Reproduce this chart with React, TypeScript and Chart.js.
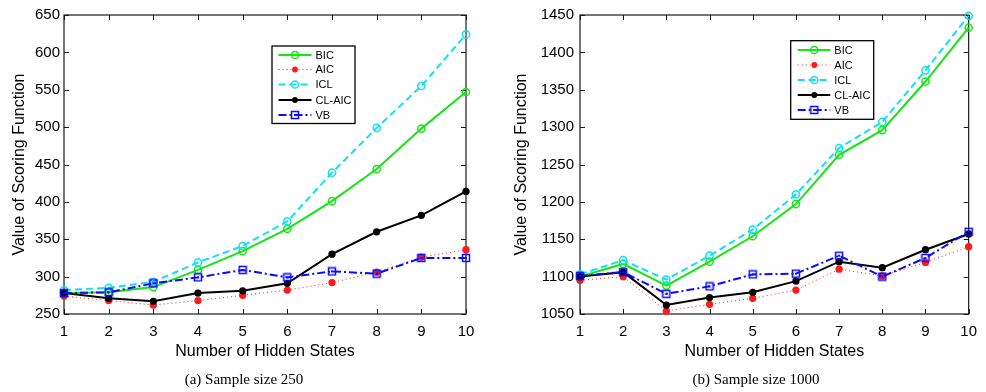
import React, { useEffect, useRef } from "react";
import { Chart, registerables } from "chart.js";

Chart.register(...registerables);

// ---------- data ----------
const hiddenStates = [1, 2, 3, 4, 5, 6, 7, 8, 9, 10];
const seriesNames = ["BIC", "AIC", "ICL", "CL-AIC", "VB"];

const bic250 = [278, 279, 286, 309, 334, 364, 401, 444, 498, 547];
const aic250 = [274, 268, 262, 268, 275, 282, 292, 306, 326, 336];
const icl250 = [282, 285, 293, 319, 341, 374, 439, 499, 555, 624];
const clAic250 = [278, 271, 267, 278, 281, 291, 330, 360, 382, 414];
const vb250 = [278, 279, 291, 299, 309, 299, 307, 304, 325, 325];

const bic1000 = [1100, 1117, 1088, 1120, 1154, 1197, 1263, 1296, 1361, 1433];
const aic1000 = [1095, 1100, 1054, 1063, 1071, 1082, 1110, 1101, 1119, 1140];
const icl1000 = [1103, 1122, 1096, 1128, 1163, 1210, 1272, 1307, 1376, 1449];
const clAic1000 = [1100, 1106, 1062, 1072, 1079, 1094, 1120, 1112, 1136, 1157];
const vb1000 = [1101, 1106, 1077, 1087, 1103, 1104, 1128, 1100, 1125, 1160];

const yTicks250 = [250, 300, 350, 400, 450, 500, 550, 600, 650];
const yTicks1000 = [1050, 1100, 1150, 1200, 1250, 1300, 1350, 1400, 1450];

const xTitle = "Number of Hidden States";
const yTitle = "Value of Scoring Function";
const caption250 = "(a) Sample size 250";
const caption1000 = "(b) Sample size 1000";

// ---------- styles ----------
type Style = { color: string; width: number; dash: number[]; marker: "open" | "dot" | "square"; r: number };
const styles: Style[] = [
  { color: "#14e614", width: 2, dash: [], marker: "open", r: 3.6 },
  { color: "#ff1a1a", width: 1, dash: [1, 3], marker: "dot", r: 2.9 },
  { color: "#10e2ee", width: 2, dash: [7, 4], marker: "open", r: 3.6 },
  { color: "#000000", width: 2, dash: [], marker: "dot", r: 2.9 },
  { color: "#0a0aff", width: 2, dash: [8, 3, 2, 3], marker: "square", r: 3.5 },
];

const FONT = 'Arial, "Liberation Sans", Helvetica, sans-serif';

function makeSquare(color: string): HTMLCanvasElement {
  const c = document.createElement("canvas");
  c.width = 10;
  c.height = 10;
  const g = c.getContext("2d")!;
  g.strokeStyle = color;
  g.lineWidth = 1.5;
  g.strokeRect(1.5, 1.5, 7, 7);
  g.fillStyle = color;
  g.fillRect(4, 4, 2, 2);
  return c;
}

function drawMarker(ctx: CanvasRenderingContext2D, s: Style, x: number, y: number, sq: HTMLCanvasElement) {
  ctx.save();
  ctx.setLineDash([]);
  if (s.marker === "square") {
    ctx.drawImage(sq, x - 5, y - 5);
  } else {
    ctx.beginPath();
    ctx.arc(x, y, s.r, 0, Math.PI * 2);
    if (s.marker === "dot") {
      ctx.fillStyle = s.color;
      ctx.fill();
    } else {
      ctx.strokeStyle = s.color;
      ctx.lineWidth = 1.5;
      ctx.stroke();
    }
  }
  ctx.restore();
}

type Geo = {
  width: number;
  areaLeft: number;
  areaRight: number;
  yLabelPad: number;
  yTitlePad: number;
  legend: { x1: number; y1: number; x2: number; y2: number; rows: number[]; lx1: number; lx2: number; mx: number; tx: number };
};

function ScoreChart({ series, yTicks, geo }: { series: number[][]; yTicks: number[]; geo: Geo }) {
  const ref = useRef<HTMLCanvasElement | null>(null);
  useEffect(() => {
    if (!ref.current) return;
    const sq = makeSquare(styles[4].color);
    const framePlugin = {
      id: "frame",
      beforeDatasetsDraw(chart: any) {
        const { ctx, chartArea: a } = chart;
        const xs = chart.scales.x;
        const ys = chart.scales.y;
        ctx.save();
        ctx.strokeStyle = "#1a1a1a";
        ctx.lineWidth = 1.2;
        ctx.setLineDash([]);
        ctx.strokeRect(a.left, a.top, a.right - a.left, a.bottom - a.top);
        ctx.beginPath();
        const tl = 5;
        hiddenStates.forEach((v) => {
          const px = Math.round(xs.getPixelForValue(v)) + 0.5;
          ctx.moveTo(px, a.bottom);
          ctx.lineTo(px, a.bottom - tl);
          ctx.moveTo(px, a.top);
          ctx.lineTo(px, a.top + tl);
        });
        yTicks.forEach((v) => {
          const py = Math.round(ys.getPixelForValue(v)) + 0.5;
          ctx.moveTo(a.left, py);
          ctx.lineTo(a.left + tl, py);
          ctx.moveTo(a.right, py);
          ctx.lineTo(a.right - tl, py);
        });
        ctx.lineWidth = 1;
        ctx.stroke();
        ctx.restore();
      },
      afterDraw(chart: any) {
        const { ctx } = chart;
        const L = geo.legend;
        ctx.save();
        ctx.fillStyle = "#ffffff";
        ctx.fillRect(L.x1, L.y1, L.x2 - L.x1, L.y2 - L.y1);
        ctx.strokeStyle = "#000000";
        ctx.lineWidth = 1.3;
        ctx.strokeRect(L.x1, L.y1, L.x2 - L.x1, L.y2 - L.y1);
        seriesNames.forEach((name, i) => {
          const s = styles[i];
          const y = L.rows[i];
          ctx.save();
          ctx.strokeStyle = s.color;
          ctx.lineWidth = s.width;
          ctx.setLineDash(s.dash);
          ctx.beginPath();
          ctx.moveTo(L.lx1, y);
          ctx.lineTo(L.lx2, y);
          ctx.stroke();
          ctx.restore();
          drawMarker(ctx, s, L.mx, y, sq);
          ctx.fillStyle = "#000000";
          ctx.font = `11px ${FONT}`;
          ctx.textBaseline = "middle";
          ctx.textAlign = "left";
          ctx.fillText(name, L.tx, y + 0.5);
        });
        ctx.restore();
      },
    };

    const datasets = series.map((vals, i) => {
      const s = styles[i];
      return {
        label: seriesNames[i],
        data: hiddenStates.map((x, j) => ({ x, y: vals[j] })),
        borderColor: s.color,
        borderWidth: s.width,
        borderDash: s.dash,
        backgroundColor: s.color,
        pointStyle: s.marker === "square" ? sq : "circle",
        pointRadius: s.r,
        pointBorderWidth: 1.5,
        pointBorderColor: s.color,
        pointBackgroundColor: s.marker === "open" ? "rgba(0,0,0,0)" : s.color,
        tension: 0,
        fill: false,
        clip: false as any,
        order: series.length - i,
      };
    });

    const chart = new Chart(ref.current, {
      type: "line",
      data: { datasets: datasets as any },
      plugins: [framePlugin as any],
      options: {
        animation: false,
        responsive: false,
        events: [],
        layout: { padding: { left: 0, right: geo.width - geo.areaRight, top: 15, bottom: 0 } },
        plugins: { legend: { display: false }, tooltip: { enabled: false } },
        scales: {
          x: {
            type: "linear",
            min: hiddenStates[0],
            max: hiddenStates[hiddenStates.length - 1],
            grid: { display: false, drawTicks: false },
            border: { display: false },
            afterBuildTicks: (s: any) => {
              s.ticks = hiddenStates.map((v) => ({ value: v }));
            },
            afterFit: (s: any) => {
              s.height = 392 - 314;
            },
            ticks: {
              color: "#000",
              font: { family: FONT, size: 15 },
              padding: 9,
              maxRotation: 0,
              autoSkip: false,
              callback: (v: any) => String(v),
            },
            title: { display: true, text: xTitle, color: "#000", font: { family: FONT, size: 16 }, padding: { top: 0, bottom: 31 } },
          },
          y: {
            type: "linear",
            min: yTicks[0],
            max: yTicks[yTicks.length - 1],
            grid: { display: false, drawTicks: false },
            border: { display: false },
            afterBuildTicks: (s: any) => {
              s.ticks = yTicks.map((v) => ({ value: v }));
            },
            afterFit: (s: any) => {
              s.width = geo.areaLeft;
            },
            ticks: {
              color: "#000",
              font: { family: FONT, size: 15 },
              padding: geo.yLabelPad,
              autoSkip: false,
              callback: (v: any) => String(v),
            },
            title: { display: true, text: yTitle, color: "#000", font: { family: FONT, size: 16 }, padding: { top: geo.yTitlePad, bottom: 0 } },
          },
        },
      },
    });
    return () => chart.destroy();
  }, []);
  return <canvas ref={ref} width={geo.width} height={392} style={{ display: "block", width: geo.width, height: 392 }} />;
}

const geoLeft: Geo = {
  width: 490,
  areaLeft: 64,
  areaRight: 466,
  yLabelPad: 4,
  yTitlePad: 10,
  legend: { x1: 272, y1: 46, x2: 355, y2: 123.5, rows: [55, 69.5, 84.5, 100, 115], lx1: 278.5, lx2: 311.5, mx: 295, tx: 315.5 },
};

const geoRight: Geo = {
  width: 496,
  areaLeft: 90,
  areaRight: 486,
  yLabelPad: 6,
  yTitlePad: 22,
  legend: { x1: 300.7, y1: 40.7, x2: 383.7, y2: 119.3, rows: [50, 65, 80, 95, 110], lx1: 307.7, lx2: 340.3, mx: 324.3, tx: 344.3 },
};

const captionStyle: React.CSSProperties = {
  position: "absolute",
  top: 369,
  width: 300,
  textAlign: "center",
  fontFamily: '"Liberation Serif", "Times New Roman", Times, serif',
  fontSize: 15,
  lineHeight: "20px",
  color: "#000",
};

export default function App() {
  return (
    <div style={{ position: "absolute", left: 0, top: 0, width: 986, height: 392, background: "#fff", overflow: "hidden" }}>
      <div style={{ position: "absolute", left: 0, top: 0 }}>
        <ScoreChart series={[bic250, aic250, icl250, clAic250, vb250]} yTicks={yTicks250} geo={geoLeft} />
      </div>
      <div style={{ position: "absolute", left: 490, top: 0 }}>
        <ScoreChart series={[bic1000, aic1000, icl1000, clAic1000, vb1000]} yTicks={yTicks1000} geo={geoRight} />
      </div>
      <div style={{ ...captionStyle, left: 244 - 150 }}>{caption250}</div>
      <div style={{ ...captionStyle, left: 756 - 150 }}>{caption1000}</div>
    </div>
  );
}
